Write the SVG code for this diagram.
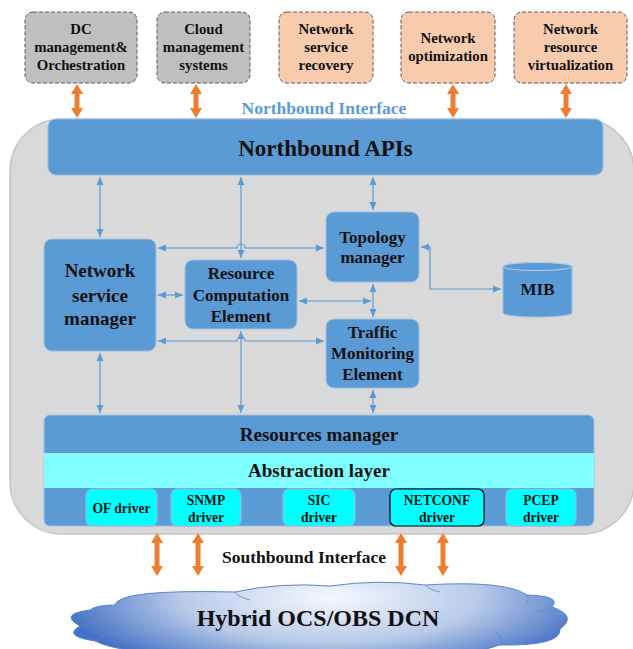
<svg xmlns="http://www.w3.org/2000/svg" width="633" height="649" viewBox="0 0 633 649" font-family="'Liberation Serif', 'Times New Roman', serif">
<style>
text{font-family:"Liberation Serif","Times New Roman",serif;font-weight:bold;fill:#111;text-anchor:middle}
.app{stroke:#595959;stroke-width:1;stroke-dasharray:4 2}
.gray{fill:#bfbfbf}
.peach{fill:#f8cbad}
.t15{font-size:14.8px}
.blue{fill:#5b9bd5;stroke:#9dbfe3;stroke-width:1}
.drv{fill:#00ffff;stroke:#9fb8d6;stroke-width:1}
.t19{font-size:19px}
.t17{font-size:17px}
.t135{font-size:13.6px}
.conn{fill:none;stroke:#5b9bd5;stroke-width:1.2;marker-start:url(#ah);marker-end:url(#ah)}
.orange{fill:#ed7d31}
</style>
<defs>
<marker id="ah" viewBox="0 0 8 8" refX="8" refY="4" markerWidth="8" markerHeight="8" markerUnits="userSpaceOnUse" orient="auto-start-reverse">
<path d="M0,0.5 L8,4 L0,7.5 z" fill="#5b9bd5"/>
</marker>
<path id="oa1" d="M0,0 L6,10 L2.5,10 L2.5,24 L6,24 L0,34 L-6,24 L-2.5,24 L-2.5,10 L-6,10 Z"/>
<path id="oa2" d="M0,0 L6,10 L2.5,10 L2.5,33 L6,33 L0,43 L-6,33 L-2.5,33 L-2.5,10 L-6,10 Z"/>
<radialGradient id="cg" gradientUnits="userSpaceOnUse" cx="330" cy="598" r="270" gradientTransform="translate(0,418) scale(1,0.3)">
<stop offset="0" stop-color="#f5f8fe"/>
<stop offset="0.55" stop-color="#b8cae9"/>
<stop offset="1" stop-color="#4472c4"/>
</radialGradient>
</defs>

<!-- main container -->
<rect id="container" x="10" y="119" width="624" height="415" rx="52" fill="#d9d9d9" stroke="#c4c4c4" stroke-width="1.5"/>

<!-- top applications -->
<g id="dc"><rect class="app gray" x="25" y="12" width="112" height="71" rx="8"/>
<text class="t15" x="81" y="34">DC</text><text class="t15" x="81" y="52">management&amp;</text><text class="t15" x="81" y="70">Orchestration</text></g>
<g id="cloudmgmt"><rect class="app gray" x="157" y="12" width="93" height="71" rx="8"/>
<text class="t15" x="203.5" y="34">Cloud</text><text class="t15" x="203.5" y="52">management</text><text class="t15" x="203.5" y="70">systems</text></g>
<g id="recovery"><rect class="app peach" x="279" y="12" width="94" height="71" rx="8"/>
<text class="t15" x="326" y="34">Network</text><text class="t15" x="326" y="52">service</text><text class="t15" x="326" y="70">recovery</text></g>
<g id="optimization"><rect class="app peach" x="401" y="12" width="94" height="71" rx="8"/>
<text class="t15" x="448" y="43">Network</text><text class="t15" x="448" y="61">optimization</text></g>
<g id="virtualization"><rect class="app peach" x="514" y="12" width="113" height="71" rx="8"/>
<text class="t15" x="570.5" y="34">Network</text><text class="t15" x="570.5" y="52">resource</text><text class="t15" x="570.5" y="70">virtualization</text></g>

<!-- orange arrows -->
<g id="orange-arrows" class="orange">
<use href="#oa1" x="77" y="84"/>
<use href="#oa1" x="196" y="84"/>
<use href="#oa1" x="453" y="84"/>
<use href="#oa1" x="566" y="84"/>
<use href="#oa2" x="157" y="533"/>
<use href="#oa2" x="198" y="533"/>
<use href="#oa2" x="401" y="533"/>
<use href="#oa2" x="443" y="533"/>
</g>

<text x="324" y="114" style="font-size:17.5px;fill:#5b9bd5">Northbound Interface</text>

<g id="northbound-apis"><rect class="blue" x="48" y="119" width="555" height="56" rx="8"/>
<text x="325.5" y="156" style="font-size:23px">Northbound APIs</text></g>

<g id="nsm"><rect class="blue" x="44" y="239" width="112" height="112" rx="8"/>
<text class="t19" x="100" y="277">Network</text><text class="t19" x="100" y="302">service</text><text class="t19" x="100" y="325">manager</text></g>

<g id="rce"><rect class="blue" x="185" y="260" width="112" height="69" rx="8"/>
<text class="t17" x="241" y="279">Resource</text><text class="t17" x="241" y="301">Computation</text><text class="t17" x="241" y="322">Element</text></g>

<g id="topology"><rect class="blue" x="326" y="212" width="93" height="70" rx="8"/>
<text class="t17" x="372.5" y="243">Topology</text><text class="t17" x="372.5" y="263">manager</text></g>

<g id="traffic"><rect class="blue" x="326" y="319" width="93" height="69" rx="8"/>
<text class="t17" x="372.5" y="338">Traffic</text><text class="t17" x="372.5" y="359">Monitoring</text><text class="t17" x="372.5" y="380">Element</text></g>

<g id="mib">
<path d="M503,266.5 A34.5,4 0 0 1 572,266.5 V313 A34.5,4 0 0 1 503,313 Z" fill="#5b9bd5" stroke="#9dbfe3" stroke-width="1"/>
<ellipse cx="537.5" cy="266.5" rx="34.5" ry="4" fill="#5b9bd5" stroke="#b5d0ec" stroke-width="1"/>
<text class="t17" x="537.5" y="295">MIB</text></g>

<g id="resources">
<rect x="44" y="415" width="550" height="111" rx="6" fill="#5b9bd5" stroke="#9dbfe3" stroke-width="1"/>
<rect x="44" y="453" width="550" height="35" fill="#7fffff"/>
<text class="t19" x="319" y="441">Resources manager</text>
<text class="t19" x="319" y="477">Abstraction layer</text>
</g>

<g id="of-driver"><rect class="drv" x="86" y="489" width="71" height="37" rx="6"/><text class="t135" x="121.5" y="513">OF driver</text></g>
<g id="snmp-driver"><rect class="drv" x="171" y="489" width="70" height="37" rx="6"/><text class="t135" x="206" y="505">SNMP</text><text class="t135" x="206" y="522">driver</text></g>
<g id="sic-driver"><rect class="drv" x="283" y="489" width="72" height="37" rx="6"/><text class="t135" x="319" y="505">SIC</text><text class="t135" x="319" y="522">driver</text></g>
<g id="netconf-driver"><rect x="390" y="489" width="94" height="37" rx="6" fill="#00ffff" stroke="#000" stroke-width="1.2"/><text class="t135" x="437" y="505">NETCONF</text><text class="t135" x="437" y="522">driver</text></g>
<g id="pcep-driver"><rect class="drv" x="506" y="489" width="70" height="37" rx="6"/><text class="t135" x="541" y="505">PCEP</text><text class="t135" x="541" y="522">driver</text></g>

<!-- connectors -->
<g id="connectors">
<path class="conn" d="M100,177 V237"/>
<path class="conn" d="M241,177 V258"/>
<path class="conn" d="M373,177 V210"/>
<path class="conn" d="M158,248 H237 A4,4 0 0 1 245,248 H324"/>
<path class="conn" d="M158,295 H183"/>
<path class="conn" d="M421,247 H430 V289 H501"/>
<path class="conn" d="M299,301 H371"/>
<path class="conn" d="M373,284 V317"/>
<path class="conn" d="M158,341 H237 A4,4 0 0 1 245,341 H324"/>
<path class="conn" d="M241,331 V413"/>
<path class="conn" d="M100,353 V413"/>
<path class="conn" d="M373,390 V413"/>
</g>

<text x="304" y="563" style="font-size:17.5px">Southbound Interface</text>

<g id="dcn">
<path d="M115,605 Q118,589 235,592 Q280,582 330,586 Q380,579 425,585 Q505,580 527,595 Q562,596 552,607 Q578,616 560,629 Q562,646 500,645 Q470,656 420,654 L200,654 Q120,654 95,641 Q62,636 80,626 Q58,614 90,610 Q96,605 115,605 Z" fill="url(#cg)" stroke="#5a86cc" stroke-width="1"/>
<path d="M235,592 Q238,597 250,600 M425,585 Q430,590 440,592 M527,595 Q530,600 525,604 M552,607 Q548,611 538,612 M500,645 Q505,638 495,632 M95,641 Q108,632 125,633 M80,626 Q88,622 100,623" fill="none" stroke="#5a86cc" stroke-width="0.8"/>
<text x="318" y="626" style="font-size:24px">Hybrid OCS/OBS DCN</text>
</g>
</svg>
